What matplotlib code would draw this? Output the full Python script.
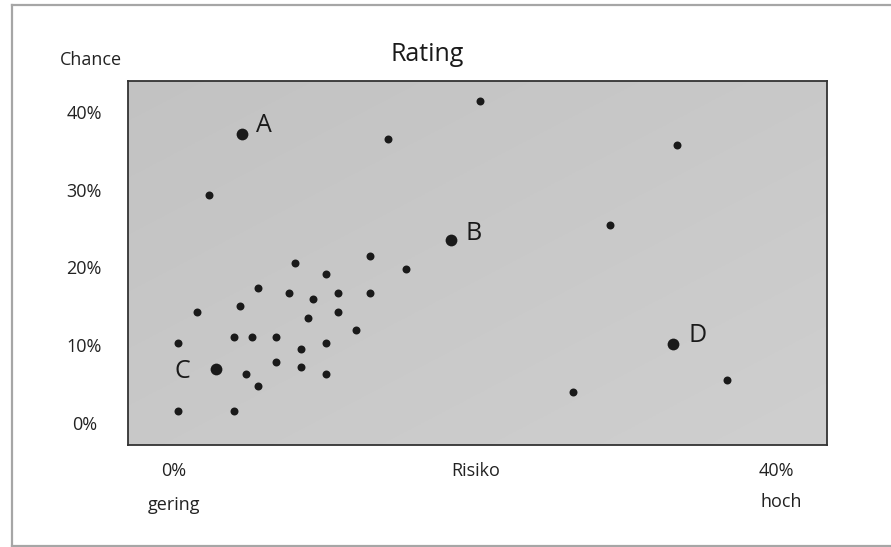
import numpy as np
import matplotlib
matplotlib.use("Agg")
import matplotlib.pyplot as plt
from matplotlib.lines import Line2D

plt.rcParams['font.family'] = ['Open Sans', 'DejaVu Sans']

#%% Data (Risiko %, Chance %)
risk = [20.3, 14.2, 2.3, 33.4, 28.9, 36.7, 26.5,
        8.0, 13.0, 10.1, 15.4, 5.6, 7.6, 9.2, 10.9, 13.0,
        1.5, 4.4, 10.9, 8.9, 12.1, 0.3, 4.0, 5.2, 6.8, 8.4, 10.1,
        4.8, 5.6, 6.8, 8.4, 10.1, 0.3, 4.0]
chance = [41.3, 36.5, 29.3, 35.7, 25.4, 5.6, 4.0,
          20.6, 21.5, 19.1, 19.8, 17.4, 16.7, 15.9, 16.7, 16.7,
          14.3, 15.1, 14.3, 13.5, 11.9, 10.3, 11.1, 11.1, 11.1, 9.5, 10.3,
          6.3, 4.8, 7.9, 7.2, 6.3, 1.6, 1.6]

key_names = ["A", "B", "C", "D"]
key_risk = [4.5, 18.4, 2.8, 33.1]
key_chance = [37.1, 23.5, 7.0, 10.2]
key_offsets = [(10, 6), (10, 5), (-19, -2), (11, 6)]  # points

y_ticks = [0, 10, 20, 30, 40]
y_labels = ["0%", "10%", "20%", "30%", "40%"]
x_ticks = [0, 20, 40]
x_labels = ["0%", "Risiko", "40%"]

#%% Figure
W, H = 891, 547
fig = plt.figure(figsize=(W / 100, H / 100), dpi=100)
ax = fig.add_axes([128 / W, (H - 445) / H, 699 / W, 364 / H])
ax.set_xlim(-3.05, 43.33)
ax.set_ylim(-2.8, 43.93)

# subtle diagonal gradient: darker top-left, lighter bottom-right
gx, gy = np.meshgrid(np.linspace(0, 1, 200), np.linspace(0, 1, 200))
t = 0.5 * gx + 0.5 * gy
v = 0.762 + (0.812 - 0.762) * t
rgb = np.dstack([v, v, v])
ax.imshow(rgb, extent=[0, 1, 0, 1], transform=ax.transAxes,
          aspect="auto", zorder=0, origin="upper")

ax.scatter(risk, chance, s=33, color="#1a1a1a", zorder=3, linewidths=0)
ax.scatter(key_risk, key_chance, s=72, color="#1a1a1a", zorder=3, linewidths=0)
for name, xv, yv, off in zip(key_names, key_risk, key_chance, key_offsets):
    ax.annotate(name, (xv, yv), xytext=off, textcoords="offset points",
                fontsize=18, color="#1a1a1a", ha="left" if off[0] > 0 else "right",
                va="center")

for sp in ax.spines.values():
    sp.set_color("#333333")
    sp.set_linewidth(1.3)

ax.set_yticks(y_ticks)
ax.set_yticklabels(y_labels)
ax.tick_params(axis="y", length=0, pad=31.5, labelsize=13, labelcolor="#222222")
for lbl in ax.get_yticklabels():
    lbl.set_horizontalalignment("center")
ax.set_xticks(x_ticks)
ax.set_xticklabels(x_labels)
ax.tick_params(axis="x", length=0, pad=12, labelsize=13, labelcolor="#222222")

ax.text(-0.053, 1.058, "Chance", transform=ax.transAxes, fontsize=13,
        ha="center", va="center", color="#222222")
ax.text(0.428, 1.074, "Rating", transform=ax.transAxes, fontsize=18,
        ha="center", va="center", color="#1a1a1a")
ax.text(0, -0.165, "gering", transform=ax.get_xaxis_transform(), fontsize=13,
        ha="center", va="center", color="#222222")
ax.text(40.3, -0.157, "hoch", transform=ax.get_xaxis_transform(), fontsize=13,
        ha="center", va="center", color="#222222")

# outer frame (left, top, bottom)
bc = "#a6a6a6"
fig.add_artist(Line2D([12 / W, 12 / W], [1 - 4.5 / H, 1 - 545.5 / H], color=bc, lw=1.6))
fig.add_artist(Line2D([12 / W, 1], [1 - 4.5 / H, 1 - 4.5 / H], color=bc, lw=1.6))
fig.add_artist(Line2D([12 / W, 1], [1 - 545.5 / H, 1 - 545.5 / H], color=bc, lw=1.6))

fig.savefig("out.png", dpi=100)
